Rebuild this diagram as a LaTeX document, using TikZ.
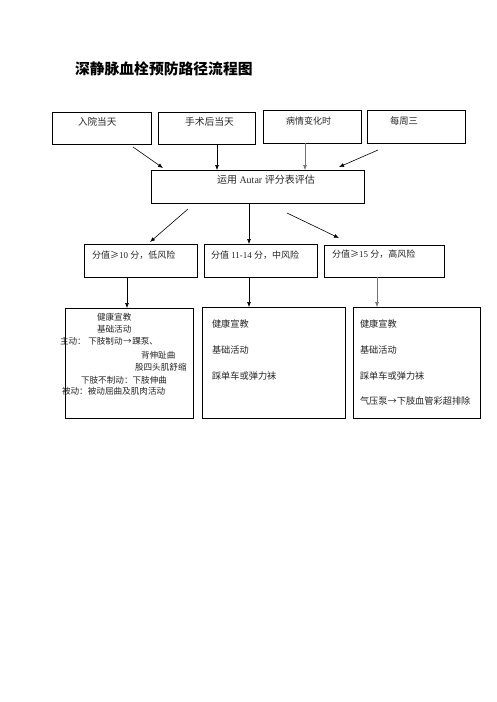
\documentclass[tikz,border=0pt]{standalone}
\usepackage{fontspec}
\setmainfont{Liberation Serif}
\newfontfamily\cjk{Noto Sans CJK SC}
\usetikzlibrary{arrows.meta}
\begin{document}
\begin{tikzpicture}[x=1pt,y=-1pt,
  box/.style={draw=black,line width=0.8pt,anchor=north west,inner sep=0pt,outer sep=0pt},
  txt/.style={anchor=base west,inner sep=0pt,outer sep=0pt,text=black!85},
  arr/.style={line width=0.6pt,-{Latex[length=5pt,width=4pt]}},
  garr/.style={arr,draw=black!55,-{Latex[length=5pt,width=4pt]}}]
\useasboundingbox[fill=white] (0,0) rectangle (496,702);
% title
\node[txt,text=black] (title) at (75,74.5) {\fontsize{14.8}{16}\selectfont\cjk\bfseries 深静脉血栓预防路径流程图};
% level 1 boxes
\node[box,minimum width=99pt,minimum height=32pt] (b1) at (52,112) {};
\node[box,minimum width=97pt,minimum height=32pt] (b2) at (158,112) {};
\node[box,minimum width=98pt,minimum height=33pt] (b3) at (263,110) {};
\node[box,minimum width=98pt,minimum height=33pt] (b4) at (367,110) {};
\node[txt] (t1) at (78,125) {\fontsize{9.6}{12}\selectfont\cjk 入院当天};
\node[txt] (t2) at (185,125.3) {\fontsize{9.8}{11}\selectfont\cjk 手术后当天};
\node[txt] (t3) at (286,124.3) {\fontsize{9}{11}\selectfont\cjk 病情变化时};
\node[txt] (t4) at (390,124.3) {\fontsize{9.3}{11}\selectfont\cjk 每周三};
% main box
\node[box,minimum width=213pt,minimum height=33pt] (main) at (151,170) {};
\node[txt] (tm) at (217,183.7) {\fontsize{10}{12}\selectfont{\cjk 运用} Autar {\cjk 评分表评估}};
% level 3
\node[box,minimum width=113pt,minimum height=33pt] (la) at (84,244) {};
\node[box,minimum width=113pt,minimum height=33pt] (lb) at (204,244) {};
\node[box,minimum width=120pt,minimum height=32pt] (lc) at (324,245) {};
\node[txt] (tla) at (92,258.3) {\fontsize{9}{11}\selectfont{\cjk 分值≥}10 {\cjk 分，低风险}};
\node[txt] (tlb) at (211,258.3) {\fontsize{9}{11}\selectfont{\cjk 分值} 11-14 {\cjk 分，中风险}};
\node[txt] (tlc) at (332,257.3) {\fontsize{9}{11}\selectfont{\cjk 分值≥}15 {\cjk 分，高风险}};
% level 4
\node[box,minimum width=128pt,minimum height=110pt] (ta) at (65,308) {};
\node[box,minimum width=143pt,minimum height=111pt] (tb) at (202,307) {};
\node[box,minimum width=127pt,minimum height=111pt] (tc) at (353,307) {};
\begin{scope}[every node/.style={txt,font=\fontsize{8.6}{10}\selectfont\cjk}]
\node (a1) at (97,320.9) {健康宣教};
\node (a2) at (97,332.5) {基础活动};
\node (a3) at (60,344.9) {主动：\hspace{2.5pt}下肢制动\hspace{0.5pt}→\hspace{0.5pt}踝泵、};
\node (a4) at (141,358.2) {背伸趾曲};
\node (a5) at (135,370.9) {股四头肌舒缩};
\node (a6) at (81,383.2) {下肢不制动：下肢伸曲};
\node (a7) at (62,394.9) {被动：被动屈曲及肌肉活动};
\end{scope}
\begin{scope}[every node/.style={txt,font=\fontsize{9.2}{11}\selectfont\cjk}]
\node (bb1) at (212,327.7) {健康宣教};
\node (bb2) at (212,353.4) {基础活动};
\node (bb3) at (212,379.1) {踩单车或弹力袜};
\node (c1) at (360,327.7) {健康宣教};
\node (c2) at (360,353.4) {基础活动};
\node (c3) at (360,379.1) {踩单车或弹力袜};
\node (c4) at (360,404.4) {气压泵→下肢血管彩超排除};
\end{scope}
% arrow free ends
\coordinate (s1) at (133,147);
\coordinate (e1) at (163,168);
\coordinate (s4) at (378,150);
\coordinate (e4) at (339,167);
\coordinate (sa) at (188,209);
\coordinate (ea) at (150,242);
\coordinate (sc) at (287,213);
\coordinate (ec) at (339,238);
% arrows
\draw[arr] (s1) -- (e1);
\draw[arr] ([xshift=10.5pt]b2.south) -- ([xshift=-40.5pt]main.north);
\draw[garr] ([xshift=-7pt]b3.south) -- ([xshift=47.5pt]main.north);
\draw[arr] (s4) -- (e4);
\draw[arr] (sa) -- (ea);
\draw[arr] ([xshift=-8.5pt]main.south) -- ([xshift=-11.5pt]lb.north);
\draw[arr] (sc) -- (ec);
\draw[arr] ([xshift=-13.5pt]la.south) -- ([xshift=-2pt]ta.north);
\draw[arr] ([xshift=-11.5pt]lb.south) -- ([xshift=-24.5pt]tb.north);
\draw[garr] ([xshift=-7pt]lc.south) -- ([xshift=-39.5pt]tc.north);
\end{tikzpicture}
\end{document}
